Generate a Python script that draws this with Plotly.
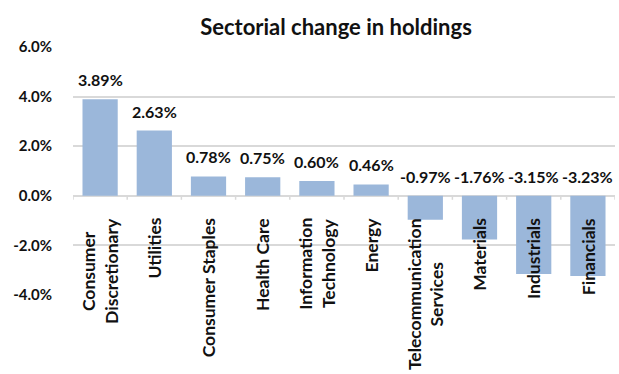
import plotly.graph_objects as go

# Sector holdings change (percentage points)
sectors = [
    "Consumer<br>Discretionary", "Utilities", "Consumer Staples", "Health Care",
    "Information<br>Technology", "Energy", "Telecommunication<br>Services",
    "Materials", "Industrials", "Financials",
]
changes = [3.89, 2.63, 0.78, 0.75, 0.60, 0.46, -0.97, -1.76, -3.15, -3.23]
y_ticks = [-4, -2, 0, 2, 4, 6]
y_tick_labels = [f"{t:.1f}%" for t in y_ticks]

FONT = "Lato"
BAR_COLOR = "#9bb7da"
GRID = "#d9d9d9"
TEXT = "#111111"

x_pos = list(range(len(sectors)))

fig = go.Figure()
fig.add_trace(go.Bar(
    x=x_pos, y=changes, width=0.65,
    marker=dict(color=BAR_COLOR, line=dict(width=0)),
    hoverinfo="skip",
))

annotations = []
# value labels sit above the bar top, or above the zero line for negatives
for i, v in enumerate(changes):
    annotations.append(dict(
        x=i, y=max(v, 0), xref="x", yref="y",
        text=f"{v:.2f}%", showarrow=False,
        yanchor="bottom", xanchor="center", yshift=8,
        font=dict(family=FONT, size=16, color=TEXT, weight="bold"),
    ))
# category labels hang from the zero line, rotated
for i, s in enumerate(sectors):
    annotations.append(dict(
        x=i, y=0, xref="x", yref="y",
        text=s, showarrow=False, textangle=-90,
        yanchor="top", xanchor="center", yshift=-20, align="center",
        font=dict(family=FONT, size=17.5, color=TEXT, weight="bold"),
    ))

# small tick marks between categories along the zero line
shapes = []
for b in [i - 0.5 for i in range(len(sectors) + 1)]:
    shapes.append(dict(
        type="line", xref="x", yref="y", x0=b, x1=b, y0=0, y1=-0.16,
        line=dict(color=GRID, width=1.5),
    ))

fig.update_layout(
    width=619, height=374,
    margin=dict(l=73, r=4, t=47, b=79),
    paper_bgcolor="white", plot_bgcolor="white",
    showlegend=False,
    title=dict(
        text="<b>Sectorial change in holdings</b>",
        x=336 / 619, xanchor="center", y=1 - 27 / 374, yanchor="middle",
        font=dict(family=FONT, size=22, color=TEXT),
    ),
    xaxis=dict(
        range=[-0.5, len(sectors) - 0.5], showticklabels=False,
        showgrid=False, zeroline=False, showline=False, fixedrange=True,
    ),
    yaxis=dict(
        range=[-4, 6], tickmode="array", tickvals=y_ticks, ticktext=y_tick_labels,
        showgrid=True, gridcolor=GRID, gridwidth=1.5,
        zeroline=True, zerolinecolor=GRID, zerolinewidth=1.5,
        showline=False, ticks="", ticklabelstandoff=20,
        tickfont=dict(family=FONT, size=15, color=TEXT, weight="bold"),
    ),
    annotations=annotations,
    shapes=shapes,
    font=dict(family=FONT, weight="bold"),
)

fig.write_html("out.html")
